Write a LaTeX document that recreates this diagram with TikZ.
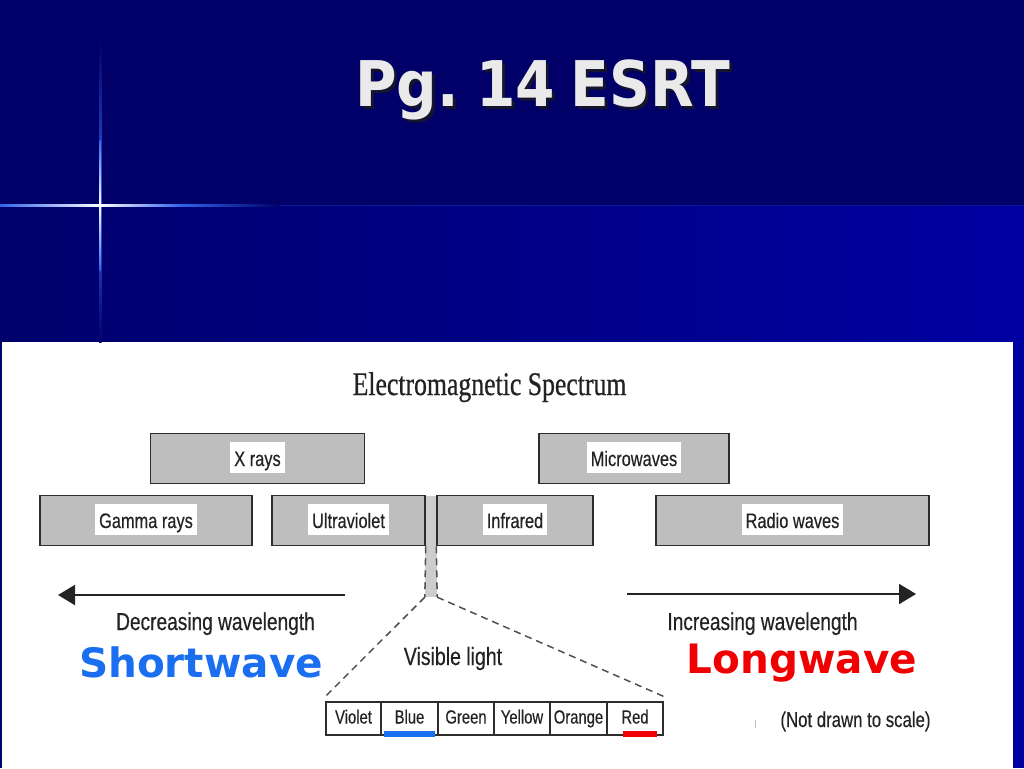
\documentclass[tikz,border=0pt]{standalone}
\usepackage{fontspec}
\setmainfont{Liberation Sans}
\newfontfamily\narfont[FakeStretch=0.78,FakeBold=0.35]{Liberation Sans}
\newfontfamily\sernarfont[FakeStretch=0.78,FakeBold=0.6]{Liberation Serif}
\newfontfamily\titlefont[FakeStretch=0.9]{DejaVu Sans}
\newfontfamily\wavefont{DejaVu Sans}
\usetikzlibrary{arrows.meta,calc}
\definecolor{navytop}{RGB}{0,0,104}
\definecolor{bandL}{RGB}{0,0,108}
\definecolor{bandR}{RGB}{0,0,162}
\definecolor{glowblue}{RGB}{50,100,235}
\definecolor{boxgray}{RGB}{190,190,190}
\definecolor{stripgray}{RGB}{205,205,205}
\definecolor{boxline}{RGB}{45,45,45}
\definecolor{txt}{RGB}{35,35,35}
\definecolor{dashc}{RGB}{80,80,80}
\definecolor{titlec}{RGB}{234,234,234}
\definecolor{shadowc}{RGB}{20,20,45}
\definecolor{shortblue}{RGB}{26,110,240}
\definecolor{longred}{RGB}{240,0,0}
\definecolor{linec}{RGB}{10,25,150}
\newcommand{\ttltext}{Pg.\hspace{-9pt} 14\hspace{-4pt} ESRT}
\tikzset{
  band/.style={draw=boxline, fill=boxgray, line width=1.5pt, minimum height=50pt, inner sep=0pt},
  blabel/.style={fill=white, inner xsep=4pt, inner ysep=4pt, text height=20pt, text depth=3pt,
    font=\narfont\fontsize{21}{25}\selectfont, text=txt, anchor=base},
  cell/.style={draw=boxline, line width=1.2pt, minimum height=33pt, inner sep=0pt,
    text height=14pt, text depth=4pt, font=\narfont\fontsize{19}{22}\selectfont, text=txt},
  plain/.style={inner sep=0pt, anchor=base, text=txt},
  warrow/.style={draw=txt, line width=2pt, -{Triangle[length=17pt,width=20pt]}},
  vdash/.style={draw=dashc, line width=1.5pt, dash pattern=on 7pt off 5pt},
  ttlstyle/.style={inner sep=0pt, anchor=base, font=\titlefont\bfseries\fontsize{63}{70}\selectfont}
}
\begin{document}
\begin{tikzpicture}[x=1pt,y=-1pt]
\useasboundingbox (0,0) rectangle (1024,768);
% background
\fill[navytop] (0,0) rectangle (1024,768);
\shade[left color=bandL, right color=bandR] (0,206) rectangle (1024,342);
\fill[bandR] (1013,342) rectangle (1024,768);
\fill[white] (2,342) rectangle (1013,768);
\draw[line width=1.2pt, linec] (0,205.5) -- (1024,205.5);
% glow cross
\shade[top color=navytop, bottom color=glowblue] (99,40) rectangle (101.5,205);
\shade[top color=glowblue, bottom color=bandL] (99,205) rectangle (101.5,342);
\shade[top color=glowblue, bottom color=white] (99.6,140) rectangle (100.9,205);
\shade[top color=white, bottom color=glowblue] (99.6,205) rectangle (100.9,270);
\shade[left color=glowblue, right color=white] (0,204.3) rectangle (100,206.8);
\shade[left color=white, right color=glowblue] (100,204.3) rectangle (180,206.8);
\shade[left color=glowblue, right color=navytop] (180,204.3) rectangle (280,206.8);
% title with its shadow in one node
\node[ttlstyle, text=titlec] (ttl) at (542.5,106)
  {\makebox[0pt][l]{\hspace*{3pt}\raisebox{-3pt}{\color{shadowc}\ttltext}}\ttltext};
% heading
\node[plain, font=\sernarfont\fontsize{33}{38}\selectfont] (head) at (489.5,395) {Electromagnetic Spectrum};
% visible strip
\node[fill=stripgray, inner sep=0pt, minimum width=12pt, minimum height=101.5pt] (vis) at (431,546.25) {};
% boxes
\node[band, minimum width=214pt] (xr) at (257.5,458.5) {};
\node[band, minimum width=190pt] (mw) at (634,458.5) {};
\node[band, minimum width=212pt] (gm) at (146,520.5) {};
\node[band, minimum width=153pt] (uv) at (348.5,520.5) {};
\node[band, minimum width=156pt] (ir) at (515,520.5) {};
\node[band, minimum width=273pt] (rw) at (792.5,520.5) {};
\node[blabel] (xrl) at (257.5,466) {X rays};
\node[blabel] (mwl) at (634,466) {Microwaves};
\node[blabel] (gml) at (146,528) {Gamma rays};
\node[blabel] (uvl) at (348.5,528) {Ultraviolet};
\node[blabel] (irl) at (515,528) {Infrared};
\node[blabel] (rwl) at (792.5,528) {Radio waves};
% colour bar
\node[cell, minimum width=55pt] (cv) at (353.5,718.5) {Violet};
\node[cell, minimum width=57pt] (cb) at (409.5,718.5) {Blue};
\node[cell, minimum width=56pt] (cg) at (466,718.5) {Green};
\node[cell, minimum width=56pt] (cy) at (522,718.5) {Yellow};
\node[cell, minimum width=57pt] (co) at (578.5,718.5) {Orange};
\node[cell, minimum width=56pt] (cr) at (635,718.5) {Red};
\draw[shortblue, line width=6pt] (384,733.5) -- (435,733.5);
\draw[longred, line width=6pt] (623,733.5) -- (657,733.5);
% dashed connectors
\draw[vdash] (uv.south east) -- (vis.south west);
\draw[vdash] (ir.south west) -- (vis.south east);
\draw[vdash] (vis.south west) -- ($(cv.north west)+(0,-5)$);
\draw[vdash] (vis.south east) -- ($(cr.north east)+(0,-5)$);
% arrows
\coordinate (la0) at (345,595);
\coordinate (la1) at (58,595);
\coordinate (ra0) at (627,594);
\coordinate (ra1) at (916,594);
\draw[warrow] (la0) -- (la1);
\draw[warrow] (ra0) -- (ra1);
% texts
\node[plain, font=\narfont\fontsize{24.5}{28}\selectfont] (dec) at (215.5,630) {Decreasing wavelength};
\node[plain, font=\narfont\fontsize{24.5}{28}\selectfont] (inc) at (762.5,630) {Increasing wavelength};
\node[plain, font=\narfont\fontsize{25}{29}\selectfont] (vl) at (453,665) {Visible light};
\node[plain, font=\narfont\fontsize{21.5}{25}\selectfont] (nd) at (855.5,727) {(Not drawn to scale)};
\node[plain, text=shortblue, font=\wavefont\bfseries\fontsize{40.5}{46}\selectfont] (sw) at (201,677) {Shortwave};
\node[plain, text=longred, font=\wavefont\bfseries\fontsize{40.5}{46}\selectfont] (lw) at (802,673) {Longwave};
\draw[black!25, line width=1pt] (755,720) -- (755,728);
\end{tikzpicture}
\end{document}
